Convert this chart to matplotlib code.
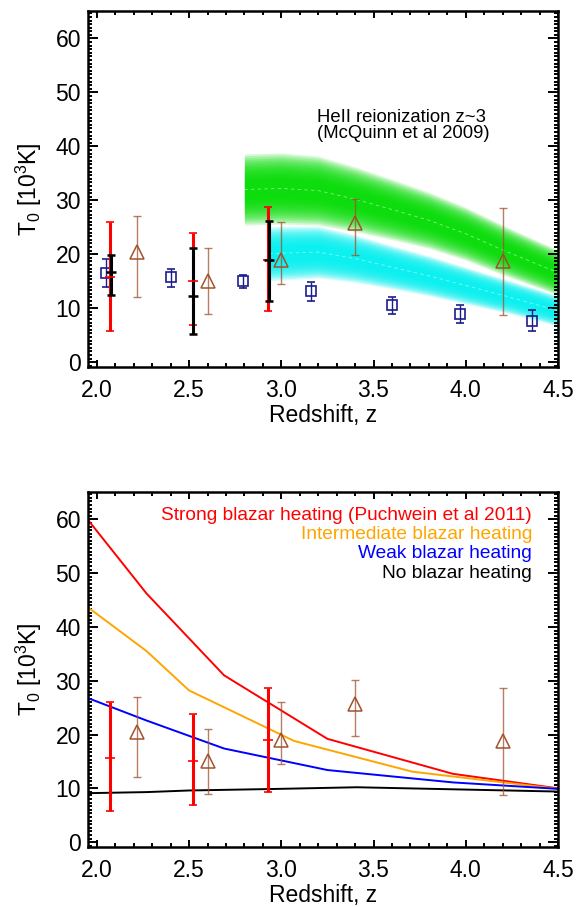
import numpy as np
import matplotlib
matplotlib.use("Agg")
import matplotlib.pyplot as plt
from matplotlib.ticker import MultipleLocator, AutoMinorLocator

plt.rcParams["font.family"] = ["Liberation Sans", "DejaVu Sans"]

# ---- measurements ----
# open squares (navy)
sq_z = [2.05, 2.40, 2.79, 3.16, 3.60, 3.97, 4.36]
sq_t = [16.6, 15.75, 15.1, 13.15, 10.5, 8.95, 7.7]
sq_hi = [19.2, 17.3, 16.2, 14.8, 12.0, 10.6, 9.6]
sq_lo = [13.9, 14.0, 13.8, 11.4, 8.95, 7.2, 5.7]

# open triangles (brown)
tri_z = [2.22, 2.60, 3.00, 3.40, 4.20]
tri_t = [20.4, 15.0, 19.0, 25.7, 18.8]
tri_hi = [27.0, 21.1, 26.0, 30.2, 28.6]
tri_lo = [12.1, 9.0, 14.5, 19.8, 8.7]

# thick red bars
red_z = [2.07, 2.52, 2.93]
red_t = [15.7, 15.0, 18.9]
red_hi = [26.0, 23.9, 28.7]
red_lo = [5.7, 6.9, 9.4]

# thick black bars (top panel only)
blk_z = [2.075, 2.522, 2.932]
blk_t = [16.7, 12.2, 18.9]
blk_hi = [19.8, 21.2, 26.1]
blk_lo = [12.5, 5.2, 11.3]

# HeII reionization models (centre and half width)
green_z = [2.80, 3.00, 3.20, 3.40, 3.60, 3.80, 4.00, 4.20, 4.40, 4.50]
green_c = [32.0, 32.2, 31.8, 30.2, 28.3, 26.3, 23.8, 20.8, 18.0, 16.6]
green_w = [6.6, 6.6, 6.4, 6.0, 5.6, 5.2, 4.9, 4.6, 4.3, 4.2]

cyan_z = [2.935, 3.00, 3.20, 3.40, 3.60, 3.80, 4.00, 4.20, 4.40, 4.50]
cyan_c = [20.1, 20.2, 20.4, 19.2, 17.6, 16.0, 14.2, 12.4, 10.5, 9.5]
cyan_w = [5.0, 5.0, 4.8, 4.4, 4.0, 3.7, 3.4, 3.1, 2.9, 2.8]

# blazar heating models
strong_z = [1.95, 2.27, 2.69, 3.25, 3.93, 4.50]
strong_t = [60.0, 46.2, 31.0, 19.2, 12.7, 10.0]
inter_z = [1.95, 2.27, 2.50, 3.07, 3.71, 4.50]
inter_t = [43.7, 35.5, 28.2, 18.8, 13.1, 9.9]
weak_z = [1.95, 2.27, 2.69, 3.25, 3.93, 4.50]
weak_t = [26.8, 22.6, 17.4, 13.4, 11.1, 9.9]
none_z = [1.95, 2.27, 2.50, 2.99, 3.41, 4.50]
none_t = [9.1, 9.3, 9.6, 9.9, 10.2, 9.4]

BROWN = "#a0522d"
NAVY = "#1c1c8c"


def style_axes(ax):
    ax.set_xlim(1.952, 4.5)
    ax.set_ylim(-0.9, 65.1)
    ax.xaxis.set_major_locator(MultipleLocator(0.5))
    ax.xaxis.set_minor_locator(MultipleLocator(0.1))
    ax.yaxis.set_major_locator(MultipleLocator(10))
    ax.yaxis.set_minor_locator(AutoMinorLocator(15))
    ax.tick_params(which="both", direction="in", top=True, right=True,
                   width=1.4, labelsize=16.5)
    ax.tick_params(axis="x", which="major", length=5, pad=9)
    ax.tick_params(axis="x", which="minor", length=2.6)
    ax.tick_params(axis="y", which="major", length=7, pad=5)
    ax.tick_params(axis="y", which="minor", length=3.2)
    ax.xaxis.set_major_formatter(plt.FuncFormatter(lambda v, p: f"{v:.1f}"))
    for s in ax.spines.values():
        s.set_linewidth(1.8)
    ax.set_xlabel("Redshift, z", fontsize=16.5, labelpad=1)
    ax.set_ylabel(r"T$_\mathregular{0}$ [10$^\mathregular{3}$K]", fontsize=16.5, labelpad=8)


def soft_band(ax, z, c, w, color, n=16):
    z = np.asarray(z)
    c = np.asarray(c)
    w = np.asarray(w)
    for f in np.linspace(1.0, 0.25, n):
        ax.fill_between(z, c - f * w, c + f * w, color=color, alpha=0.16, lw=0)


def errs(t, lo, hi):
    t = np.asarray(t)
    return [t - np.asarray(lo), np.asarray(hi) - t]


def thick_bars(ax, z, t, lo, hi, color, mew):
    ax.errorbar(z, t, yerr=errs(t, lo, hi), fmt="_", color=color, ms=7,
                mew=mew, elinewidth=2.2, capsize=2.6, capthick=2.0, zorder=4)


def triangles(ax):
    ax.errorbar(tri_z, tri_t, yerr=errs(tri_t, tri_lo, tri_hi), fmt="none",
                ecolor=BROWN, alpha=0.75, elinewidth=1.0, capsize=2.6,
                capthick=1.0, zorder=5)
    ax.plot(tri_z, tri_t, "^", mfc="none", mec=BROWN, ms=9.5, mew=1.1, zorder=6)


fig = plt.figure(figsize=(5.85, 9.07), dpi=100)
ax1 = fig.add_axes([0.1504, 0.5954, 0.8034, 0.3925])
ax2 = fig.add_axes([0.1504, 0.0662, 0.8034, 0.3914])

# ---- top panel ----
soft_band(ax1, green_z, green_c, green_w, "#00dd00")
ax1.plot(green_z, green_c, color="white", lw=0.6, ls=(0, (4, 4)), alpha=0.5)
soft_band(ax1, cyan_z, cyan_c, cyan_w, "#00f0f0")
ax1.plot(cyan_z, cyan_c, color="white", lw=0.6, ls=(0, (4, 4)), alpha=0.5)

ax1.errorbar(sq_z, sq_t, yerr=errs(sq_t, sq_lo, sq_hi), fmt="s", mfc="none",
             mec=NAVY, ecolor=NAVY, ms=6.5, mew=1.2, elinewidth=1.0,
             capsize=2.6, capthick=1.0, zorder=3)
thick_bars(ax1, red_z, red_t, red_lo, red_hi, "red", 1.2)
thick_bars(ax1, blk_z, blk_t, blk_lo, blk_hi, "black", 1.8)
triangles(ax1)

ax1.text(3.195, 43.9, "HeII reionization z~3\n(McQuinn et al 2009)",
         fontsize=13.3, ha="left", va="center", linespacing=0.95)
style_axes(ax1)

# ---- bottom panel ----
ax2.plot(strong_z, strong_t, color="red", lw=1.4)
ax2.plot(inter_z, inter_t, color="orange", lw=1.4)
ax2.plot(weak_z, weak_t, color="blue", lw=1.4)
ax2.plot(none_z, none_t, color="black", lw=1.4)
thick_bars(ax2, red_z, red_t, red_lo, red_hi, "red", 1.2)
triangles(ax2)

labels = ["Strong blazar heating (Puchwein et al 2011)",
          "Intermediate blazar heating",
          "Weak blazar heating",
          "No blazar heating"]
colors = ["red", "orange", "blue", "black"]
for i, (lab, col) in enumerate(zip(labels, colors)):
    ax2.text(4.36, 60.8 - 3.6 * i, lab, color=col, fontsize=13.8,
             ha="right", va="center")
style_axes(ax2)

fig.savefig("out.png", dpi=100)
